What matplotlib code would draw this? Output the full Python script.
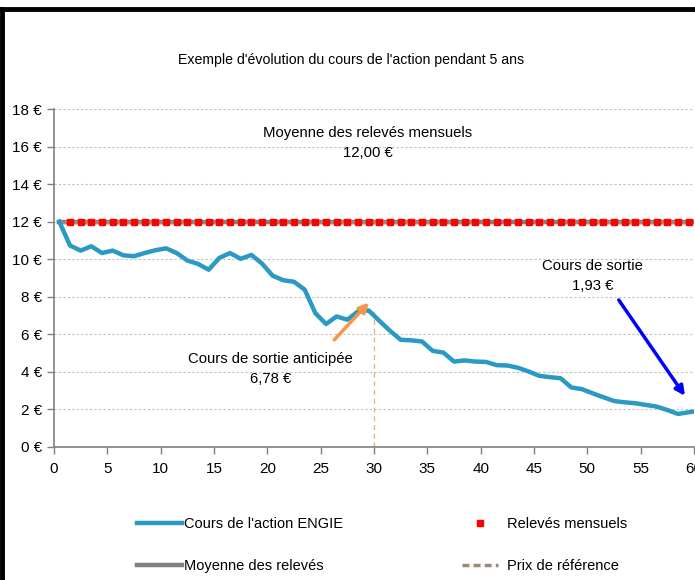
import numpy as np
import matplotlib
matplotlib.use('Agg')
import matplotlib.pyplot as plt
from matplotlib.lines import Line2D

plt.rcParams['font.family'] = ['Liberation Sans', 'DejaVu Sans']

# cours mensuel de l'action (61 points, mois 0 a 60)
cours = [12.0, 10.73, 10.46, 10.69, 10.33, 10.46, 10.21, 10.16, 10.33, 10.48,
         10.58, 10.33, 9.93, 9.75, 9.44, 10.07, 10.33, 10.02, 10.23, 9.77,
         9.12, 8.88, 8.80, 8.38, 7.13, 6.55, 6.95, 6.78, 7.22, 7.27,
         6.72, 6.19, 5.71, 5.68, 5.62, 5.12, 5.03, 4.55, 4.61, 4.55,
         4.53, 4.36, 4.34, 4.22, 4.02, 3.79, 3.72, 3.66, 3.17, 3.08,
         2.86, 2.65, 2.45, 2.38, 2.33, 2.24, 2.15, 1.97, 1.76, 1.85, 1.93]
mois = np.arange(len(cours)) + 0.5
releves = [12.0] * 60
mois_releves = np.arange(1, 61) + 0.5
moyenne = 12.0
prix_ref = 12.0
sortie_anticipee = 30

fig = plt.figure(figsize=(6.95, 5.8), dpi=100)
ax = fig.add_axes([54 / 695, 1 - 447 / 580, 640 / 695, 338 / 580])

l_cours, = ax.plot(mois, cours, color='#2A9AC4', lw=3.2, solid_joinstyle='round', zorder=3)
l_moy, = ax.plot([mois[0], 61], [moyenne, moyenne], color='#808080', lw=3.2, zorder=2)
l_ref, = ax.plot([mois[0], 61], [prix_ref, prix_ref], color='#A08A74', lw=2.5,
                 ls=(0, (2, 1.2)), zorder=2)
l_rel, = ax.plot(mois_releves, releves, ls='none', marker='s', ms=4.3, color='#FF0000',
                 zorder=4)
ax.plot([sortie_anticipee, sortie_anticipee], [0, 7.25], color='#F7A96A', lw=0.9,
        ls=(0, (4, 3)), zorder=1)

ax.set_xlim(0, 60)
ax.set_ylim(0, 18)
ax.set_xticks(range(0, 61, 5))
ax.set_yticks(range(0, 19, 2))
ax.set_yticklabels([f'{v} €' for v in range(0, 19, 2)])
ax.tick_params(axis='both', labelsize=11, color='#808080', length=5, width=1)
ax.tick_params(axis='x', pad=6)
ax.grid(axis='y', color='#BFBFBF', ls=(0, (2, 2)), lw=0.8)
ax.set_axisbelow(True)
for s in ['top', 'right']:
    ax.spines[s].set_visible(False)
for s in ['left', 'bottom']:
    ax.spines[s].set_color('#808080')
    ax.spines[s].set_linewidth(1.2)
ax.spines['bottom'].set_zorder(5)

fig.text(351 / 695, 1 - 60 / 580, "Exemple d'évolution du cours de l'action pendant 5 ans",
         ha='center', va='center', fontsize=10.2)

ax.text(29.4, 16.2, 'Moyenne des relevés mensuels\n12,00 €', ha='center', va='center',
        fontsize=10.7, linespacing=1.55)
ax.text(50.5, 9.1, 'Cours de sortie\n1,93 €', ha='center', va='center',
        fontsize=10.7, linespacing=1.55)
ax.text(20.3, 4.15, 'Cours de sortie anticipée\n6,78 €', ha='center', va='center',
        fontsize=10.7, linespacing=1.55)
ax.annotate('', xy=(59.3, 2.6), xytext=(52.8, 7.95),
            arrowprops=dict(arrowstyle='-|>', color='#0000FF', lw=2.5, mutation_scale=14))
ax.annotate('', xy=(29.7, 7.8), xytext=(26.1, 5.6),
            arrowprops=dict(arrowstyle='-|>', color='#F79646', lw=2.5, mutation_scale=14))

leg_kw = dict(frameon=False, loc='upper left', fontsize=10.5, borderpad=0,
              borderaxespad=0, labelspacing=1.95, handletextpad=0.1)
leg1 = fig.legend([l_cours, l_moy], ["Cours de l'action ENGIE", 'Moyenne des relevés'],
                  bbox_to_anchor=(137 / 695, 1 - 517 / 580), handlelength=3.1, **leg_kw)
leg2 = fig.legend([l_rel, l_ref], ['Relevés mensuels', 'Prix de référence'],
                  bbox_to_anchor=(462 / 695, 1 - 517 / 580), handlelength=2.5,
                  **dict(leg_kw, handletextpad=0.6))

# cadre noir
fig.add_artist(Line2D([0, 1], [1 - 8.5 / 580, 1 - 8.5 / 580], color='black', lw=3.5,
                      transform=fig.transFigure))
fig.add_artist(Line2D([1.5 / 695, 1.5 / 695], [0, 1 - 8.5 / 580], color='black', lw=3.5,
                      transform=fig.transFigure))

fig.savefig('out.png', dpi=100)
